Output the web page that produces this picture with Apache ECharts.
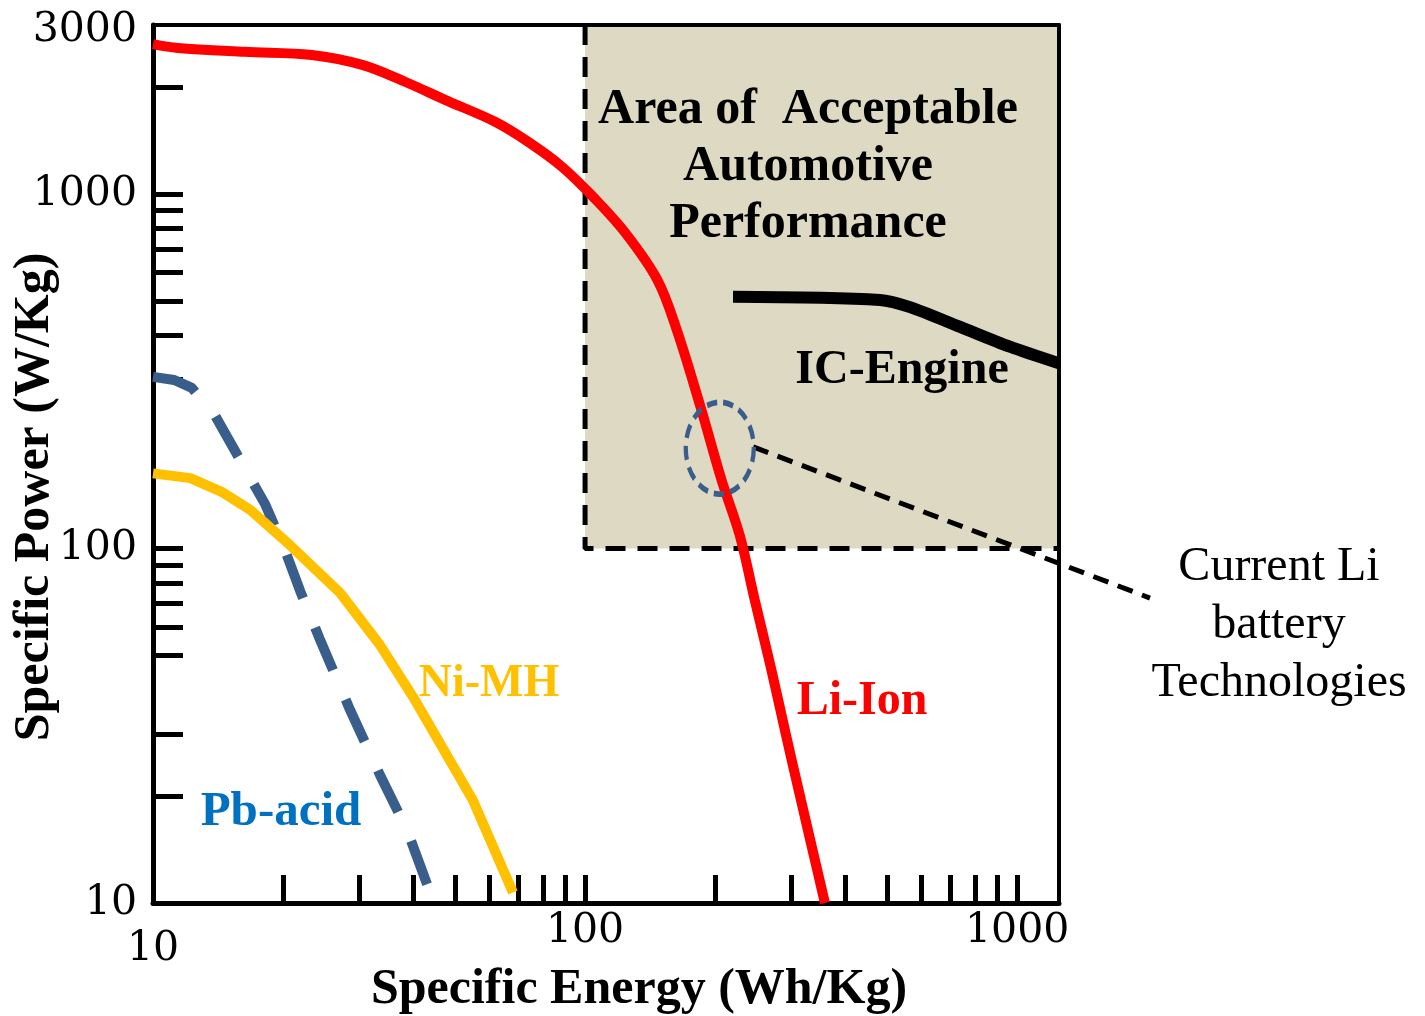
<!DOCTYPE html>
<html>
<head>
<meta charset="utf-8">
<title>Specific Power vs Specific Energy</title>
<script src="https://cdn.jsdelivr.net/npm/echarts@6/dist/echarts.min.js"></script>
<style>
html, body { margin: 0; padding: 0; background: #ffffff; }
#chart { width: 1425px; height: 1016px; }
</style>
</head>
<body>
<div id="chart"></div>
<script>
// axes (both log scale)
var energyRange = [10, 1250];
var powerRange = [10, 3000];
var energyLabels = [10, 100, 1000];
var powerLabels = [10, 100, 1000, 3000];
var energyTicks = [20, 30, 40, 50, 60, 70, 80, 90, 100, 200, 300, 400, 500, 600, 700, 800, 900, 1000];
var powerTicks = [20, 30, 50, 60, 70, 80, 90, 100, 300, 400, 500, 600, 700, 800, 900, 1000, 2000];

// Li-Ion
var liIonEnergy = [10, 11.4, 16.3, 23.3, 30.5, 38.3, 47.4, 61.9, 73.8, 88.4, 105, 124, 147, 163, 185, 207, 228, 247, 269, 291, 316, 339, 359];
var liIonPower = [2650, 2585, 2520, 2470, 2315, 2075, 1845, 1600, 1405, 1195, 975, 777, 573, 414, 251, 156, 109, 71.6, 46.3, 30.2, 19.5, 13.5, 10];

// Ni-MH
var niMhEnergy = [10, 12.2, 14.5, 16.8, 20.8, 27.1, 33.5, 40, 55, 68.1];
var niMhPower = [163, 158, 144, 128.5, 102, 75, 53.5, 38.1, 19.5, 10.7];

// Pb-acid
var pbEnergy = [10, 11.2, 12.3, 13.9, 15.9, 18.2, 20.2, 21.9, 24.4, 28.6, 33.5, 38.7, 43.8];
var pbPower = [305, 299, 284, 238, 178, 133, 99, 76, 55, 35, 23, 16.1, 10.7];

// IC-Engine
var icEnergy = [220, 481, 565, 738, 962, 1250];
var icPower = [513, 503, 480, 422, 371, 333];

// area of acceptable automotive performance (corners)
var areaEnergy = [100, 1250];
var areaPower = [100, 3000];

// "current Li battery technologies" callout: circle centre and leader line
var circleEnergy = [205];
var circlePower = [192];
var leaderEnergy = [245, 2030];
var leaderPower = [193.5, 72.5];

function zip(xs, ys) {
	var out = [];
	for (var i = 0; i < xs.length; i++) {
		out.push([xs[i], ys[i]]);
	}
	return out;
}

var labelFont = 'DejaVu Serif';
var textFont = 'Liberation Serif';

function textEl(text, x, y, size, color, weight, lineHeight) {
	return {
		type : 'text', z : 100, x : x, y : y,
		style : {
			text : text,
			fontFamily : textFont, fontWeight : weight, fontSize : size,
			lineHeight : lineHeight || size, fill : color,
			textAlign : 'center', textVerticalAlign : 'middle'
		}
	};
}

window.onload = function() {
	var myChart = echarts.init(document.getElementById('chart'), null, { renderer: 'canvas' });

	myChart.setOption({
		animation : false,
		backgroundColor : '#ffffff',
		grid : {
			left : 153,
			top : 25,
			width : 906,
			height : 878,
			show : false,
			containLabel : false,
			outerBoundsMode : 'none'
		},
		xAxis : [ {
			type : 'log',
			logBase : 10,
			min : energyRange[0],
			max : energyRange[1],
			name : 'Specific Energy (Wh/Kg)',
			nameLocation : 'middle',
			nameGap : 62,
			nameMoveOverlap : false,
			nameTextStyle : {
				fontFamily : textFont,
				fontWeight : 'bold',
				fontSize : 50,
				color : '#000',
				padding : [ 0, 0, 0, 66 ]
			},
			axisLine : { show : true, lineStyle : { color : '#000', width : 5 } },
			axisTick : {
				show : true,
				inside : true,
				length : 28,
				customValues : energyTicks,
				lineStyle : { color : '#000', width : 5 }
			},
			minorTick : { show : false },
			splitLine : { show : false },
			axisLabel : {
				customValues : energyLabels,
				margin : 8,
				fontFamily : labelFont,
				fontSize : 41,
				color : '#000',
				formatter : function(v) {
					return v === 10 ? '{low|10}' : String(v);
				},
				rich : {
					low : { fontFamily : labelFont, fontSize : 41, color : '#000', padding : [ 18, 0, 0, 0 ] }
				}
			}
		}, {
			// top frame
			type : 'log',
			position : 'top',
			min : energyRange[0],
			max : energyRange[1],
			z : 6,
			axisLine : { show : true, lineStyle : { color : '#000', width : 4 } },
			axisTick : { show : false },
			axisLabel : { show : false },
			splitLine : { show : false }
		} ],
		yAxis : [ {
			type : 'log',
			logBase : 10,
			min : powerRange[0],
			max : powerRange[1],
			name : 'Specific Power (W/Kg)',
			nameLocation : 'middle',
			nameGap : 93,
			nameMoveOverlap : false,
			nameTextStyle : {
				fontFamily : textFont,
				fontWeight : 'bold',
				fontSize : 50,
				color : '#000',
				padding : [ 0, 66, 0, 0 ]
			},
			axisLine : { show : true, lineStyle : { color : '#000', width : 5 } },
			axisTick : {
				show : true,
				inside : true,
				length : 30,
				customValues : powerTicks,
				lineStyle : { color : '#000', width : 5 }
			},
			minorTick : { show : false },
			splitLine : { show : false },
			axisLabel : {
				customValues : powerLabels,
				margin : 16,
				fontFamily : labelFont,
				fontSize : 41,
				color : '#000',
				formatter : function(v) {
					return v === 3000 ? '{top|3000}' : String(v);
				},
				rich : {
					top : { fontFamily : labelFont, fontSize : 41, color : '#000', padding : [ 10, 0, 0, 0 ] }
				}
			}
		}, {
			// right frame
			type : 'log',
			position : 'right',
			min : powerRange[0],
			max : powerRange[1],
			z : 6,
			axisLine : { show : true, lineStyle : { color : '#000', width : 4 } },
			axisTick : { show : false },
			axisLabel : { show : false },
			splitLine : { show : false }
		} ],
		series : [ {
			name : 'Acceptable area',
			type : 'line',
			z : 2,
			silent : true,
			symbol : 'none',
			data : [ [ areaEnergy[0], areaPower[1] ], [ areaEnergy[0], areaPower[0] ], [ areaEnergy[1], areaPower[0] ] ],
			lineStyle : { color : '#000', width : 5, type : [ 20, 12 ] },
			markArea : {
				silent : true,
				z : 1,
				itemStyle : { color : '#DDD9C3' },
				data : [ [ { coord : [ areaEnergy[0], areaPower[0] ] }, { coord : [ areaEnergy[1], areaPower[1] ] } ] ]
			}
		}, {
			name : 'Pb-acid',
			type : 'line',
			z : 3,
			symbol : 'none',
			data : zip(pbEnergy, pbPower),
			lineStyle : { color : '#3A5E8C', width : 10, type : [ 46, 32 ] }
		}, {
			name : 'Ni-MH',
			type : 'line',
			z : 4,
			symbol : 'none',
			data : zip(niMhEnergy, niMhPower),
			lineStyle : { color : '#FFC000', width : 10 }
		}, {
			name : 'Li-Ion',
			type : 'line',
			z : 5,
			symbol : 'none',
			smooth : 0.35,
			data : zip(liIonEnergy, liIonPower),
			lineStyle : { color : '#FF0000', width : 10 }
		}, {
			name : 'IC-Engine',
			type : 'line',
			z : 5,
			symbol : 'none',
			smooth : 0.3,
			data : zip(icEnergy, icPower),
			lineStyle : { color : '#000', width : 12 }
		}, {
			name : 'Current Li',
			type : 'scatter',
			z : 7,
			symbol : 'circle',
			symbolSize : [ 68, 92 ],
			data : zip(circleEnergy, circlePower),
			itemStyle : {
				color : 'rgba(0,0,0,0)',
				opacity : 1,
				borderColor : '#3A5E8C',
				borderWidth : 5,
				borderType : [ 12, 7 ]
			}
		} ],
		graphic : {
			elements : [
				textEl('Area of  Acceptable\nAutomotive\nPerformance', 808, 167, 50, '#000', 'bold', 57),
				textEl('IC-Engine', 902, 371, 48, '#000', 'bold'),
				textEl('Ni-MH', 489, 684, 46, '#FFC000', 'bold'),
				textEl('Pb-acid', 281, 812, 49, '#0070C0', 'bold'),
				textEl('Li-Ion', 862, 702, 48, '#FF0000', 'bold'),
				textEl('Current Li\nbattery\nTechnologies', 1279, 625, 48, '#000', 'normal', 58)
			]
		}
	});

	// leader line runs past the plot frame, so place it through the axes' own mapping
	var p0 = myChart.convertToPixel({ gridIndex : 0 }, [ leaderEnergy[0], leaderPower[0] ]);
	var p1 = myChart.convertToPixel({ gridIndex : 0 }, [ leaderEnergy[1], leaderPower[1] ]);
	myChart.setOption({
		graphic : {
			elements : [ {
				type : 'line', id : 'leader', z : 6,
				shape : { x1 : p0[0], y1 : p0[1], x2 : p1[0], y2 : p1[1] },
				style : { stroke : '#000', lineWidth : 5, lineDash : [ 16, 10 ] }
			} ]
		}
	});
};
</script>
</body>
</html>
